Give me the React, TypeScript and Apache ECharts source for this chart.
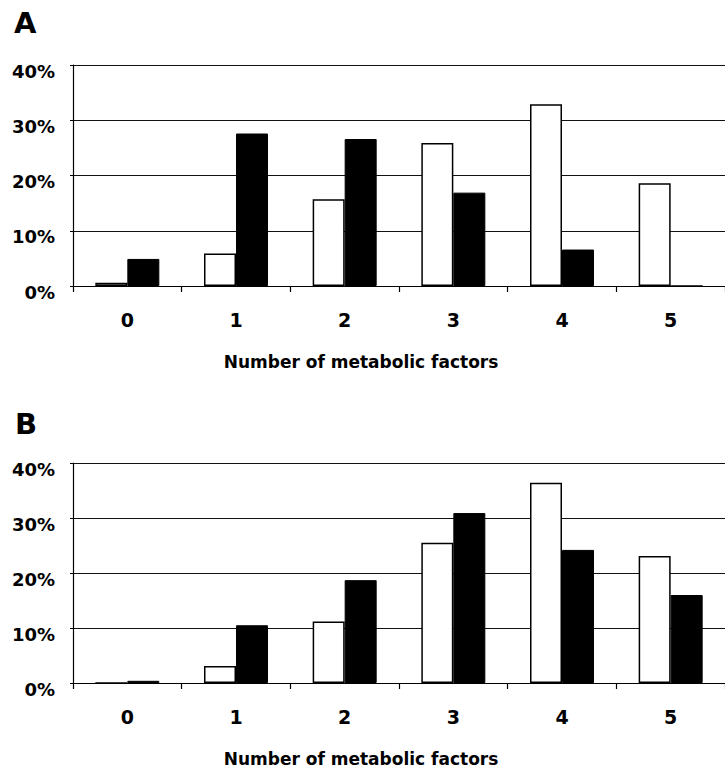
import React, { useEffect, useRef } from "react";
import * as echarts from "echarts";

const categories = ["0", "1", "2", "3", "4", "5"];
const panelAWhite = [0.6, 5.9, 15.7, 25.9, 32.9, 18.6];
const panelABlack = [4.9, 27.6, 26.6, 16.9, 6.6, 0];
const panelBWhite = [0, 3.1, 11.2, 25.5, 36.4, 23.1];
const panelBBlack = [0.4, 10.5, 18.7, 30.9, 24.2, 16.0];
const yMin = 0;
const yMax = 40;
const yStep = 10;
const xName = "Number of metabolic factors";
const panelLabels = ["A", "B"];

const FONT = "'DejaVu Sans', 'Liberation Sans', Arial, sans-serif";

export default function App() {
  const ref = useRef<HTMLDivElement>(null);
  useEffect(() => {
    if (!ref.current) return;
    const chart = echarts.init(ref.current, undefined, { renderer: "svg" });
    const grids = [
      { left: 73, top: 65, width: 661, height: 221 },
      { left: 73, top: 463, width: 661, height: 220 },
    ];
    const xAxes = grids.map((_, i) => ({
      type: "category",
      gridIndex: i,
      data: categories,
      boundaryGap: true,
      axisLine: { show: true, lineStyle: { color: "#000", width: 1.2 } },
      axisTick: { show: true, length: 6, inside: false, lineStyle: { color: "#000", width: 1.2 } },
      axisLabel: {
        margin: 24,
        color: "#000",
        fontFamily: FONT,
        fontWeight: "bold",
        fontSize: 19,
      },
      name: xName,
      nameLocation: "middle",
      nameGap: 67,
      nameTextStyle: {
        color: "#000",
        fontFamily: FONT,
        fontWeight: "bold",
        fontSize: 17,
        padding: [0, 76, 0, 0],
      },
    }));
    const yAxes = grids.map((_, i) => ({
      type: "value",
      gridIndex: i,
      min: yMin,
      max: yMax,
      interval: yStep,
      axisLine: { show: true, lineStyle: { color: "#000", width: 1.2 } },
      axisTick: { show: true, length: 3, lineStyle: { color: "#000" } },
      splitLine: { show: true, lineStyle: { color: "#111", width: 1 } },
      axisLabel: {
        formatter: "{value}%",
        margin: 18,
        color: "#000",
        fontFamily: FONT,
        fontWeight: "bold",
        fontSize: 18,
        verticalAlign: "top",
        lineHeight: 12,
      },
    }));
    const whiteStyle = { color: "#fff", borderColor: "#000", borderWidth: 1.5 };
    const blackStyle = { color: "#000", borderColor: "#000", borderWidth: 1 };
    const mk = (data: number[], idx: number, style: any) => ({
      type: "bar",
      xAxisIndex: idx,
      yAxisIndex: idx,
      data,
      barWidth: 32,
      barGap: "0%",
      itemStyle: style,
      emphasis: { disabled: true },
    });
    chart.setOption({
      animation: false,
      backgroundColor: "#fff",
      title: [
        {
          text: panelLabels[0],
          left: 9,
          top: 3,
          textStyle: { fontFamily: FONT, fontWeight: "bold", fontSize: 29, color: "#000" },
        },
        {
          text: panelLabels[1],
          left: 10,
          top: 404,
          textStyle: { fontFamily: FONT, fontWeight: "bold", fontSize: 29, color: "#000" },
        },
      ],
      grid: grids,
      xAxis: xAxes,
      yAxis: yAxes,
      series: [
        mk(panelAWhite, 0, whiteStyle),
        mk(panelABlack, 0, blackStyle),
        mk(panelBWhite, 1, whiteStyle),
        mk(panelBBlack, 1, blackStyle),
      ],
    });
    return () => chart.dispose();
  }, []);
  return (
    <div
      ref={ref}
      style={{ position: "absolute", left: 0, top: 0, width: 725, height: 770, background: "#fff" }}
    />
  );
}
